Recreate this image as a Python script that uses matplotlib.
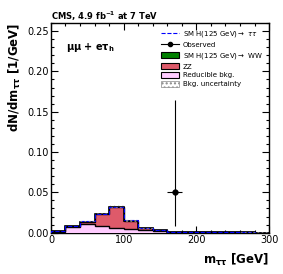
import numpy as np
import matplotlib.pyplot as plt
from matplotlib.patches import Patch
from matplotlib.lines import Line2D
from matplotlib.ticker import MultipleLocator

# bins of m_tautau (GeV)
edges = np.arange(0, 320, 20)
reducible = [0.0010, 0.0070, 0.0108, 0.0087, 0.0062, 0.0045, 0.0030, 0.0016, 0.0008, 0.0004,
             0.0003, 0.0002, 0.0002, 0.0001, 0.0001]
zz = [0.0005, 0.0009, 0.0029, 0.0142, 0.0258, 0.0098, 0.0022, 0.0013, 0.0004, 0.0002,
      0.0001, 0.0001, 0.0001, 0.0001, 0.0000]
hww = [0.0, 0.0, 0.0, 0.0, 0.0, 0.0, 0.0, 0.0, 0.0, 0.0, 0.0, 0.0, 0.0, 0.0, 0.0]
htt = [0.0, 0.0, 0.0002, 0.0003, 0.0004, 0.0008, 0.0008, 0.0005, 0.0001, 0.0, 0.0, 0.0, 0.0, 0.0, 0.0]
bkg_unc = [0.0003, 0.0008, 0.0012, 0.0015, 0.0018, 0.0010, 0.0006, 0.0004, 0.0002, 0.0001,
           0.0001, 0.0001, 0.0001, 0.0001, 0.0001]

obs_x = [170]
obs_y = [0.05]
obs_xerr = [10]
obs_yerr_lo = [0.0415]
obs_yerr_hi = [0.115]

red = np.array(reducible)
zzv = red + np.array(zz)
www = zzv + np.array(hww)
ttv = www + np.array(htt)
unc = np.array(bkg_unc)

fig = plt.figure(figsize=(2.83, 2.74), dpi=100)
ax = fig.add_axes([0.180, 0.151, 0.771, 0.765])

ax.stairs(www, edges, fill=True, color="#008000", zorder=1)
ax.stairs(zzv, edges, fill=True, color="#de5a6a", zorder=2)
ax.stairs(red, edges, fill=True, color="#ffccff", zorder=3)
ax.stairs(www, edges, color="black", lw=1.2, zorder=4)
ax.stairs(zzv, edges, color="black", lw=1.0, zorder=4)
ax.stairs(red, edges, color="black", lw=1.0, zorder=4)
ax.stairs(ttv, edges, color="blue", lw=0.8, ls="--", zorder=5)
ax.stairs(zzv + unc, edges, baseline=zzv - unc, fill=True, facecolor="none",
          edgecolor="#888888", hatch="....", lw=0, zorder=6)

ax.errorbar(obs_x, obs_y, xerr=obs_xerr, yerr=[obs_yerr_lo, obs_yerr_hi],
            fmt="o", color="black", ms=3.5, lw=0.8, capsize=0, zorder=7)

ax.set_xlim(0, 300)
ax.set_ylim(0, 0.26)
ax.xaxis.set_major_locator(MultipleLocator(100))
ax.xaxis.set_minor_locator(MultipleLocator(20))
ax.yaxis.set_major_locator(MultipleLocator(0.05))
ax.yaxis.set_minor_locator(MultipleLocator(0.01))
ax.yaxis.set_major_formatter(plt.FuncFormatter(lambda v, p: f"{v:.2f}"))
ax.tick_params(which="both", direction="in", top=True, right=True, labelsize=7, pad=1.5)
ax.tick_params(which="major", length=5, width=0.8)
ax.tick_params(which="minor", length=2.5, width=0.8)
for s in ax.spines.values():
    s.set_linewidth(1.0)

ax.set_xlabel(r"m$_{\mathbf{\tau\tau}}$ [GeV]", fontsize=8.5, fontweight="bold", loc="right", labelpad=5)
ax.set_ylabel(r"dN/dm$_{\mathbf{\tau\tau}}$ [1/GeV]", fontsize=8.5, fontweight="bold", loc="top", labelpad=3)
ax.set_title(r"CMS, 4.9 fb$^{\mathbf{-1}}$ at 7 TeV", fontsize=6, fontweight="bold", loc="left", pad=2)
ax.text(0.07, 0.87, r"$\mathbf{\mu\mu}$ + e$\mathbf{\tau_h}$", transform=ax.transAxes,
        fontsize=7, fontweight="bold")

handles = [
    Line2D([], [], color="blue", ls="--", lw=0.8),
    Line2D([], [], color="black", marker="o", ms=3, lw=0.8),
    Patch(facecolor="#008000", edgecolor="black", lw=0.8),
    Patch(facecolor="#de5a6a", edgecolor="black", lw=0.8),
    Patch(facecolor="#ffccff", edgecolor="black", lw=0.8),
    Patch(facecolor="white", edgecolor="#888888", hatch="....", lw=0.5),
]
labels = [r"SM H(125 GeV)$\rightarrow$ $\tau\tau$", "Observed", r"SM H(125 GeV)$\rightarrow$ WW",
          "ZZ", "Reducible bkg.", "Bkg. uncertainty"]
ax.legend(handles, labels, loc="upper right", bbox_to_anchor=(0.99, 0.99), frameon=False,
          fontsize=5, handlelength=2.6, handleheight=1.0, labelspacing=0.35, borderaxespad=0.2,
          handletextpad=0.6)

fig.savefig("out.png", dpi=100)
